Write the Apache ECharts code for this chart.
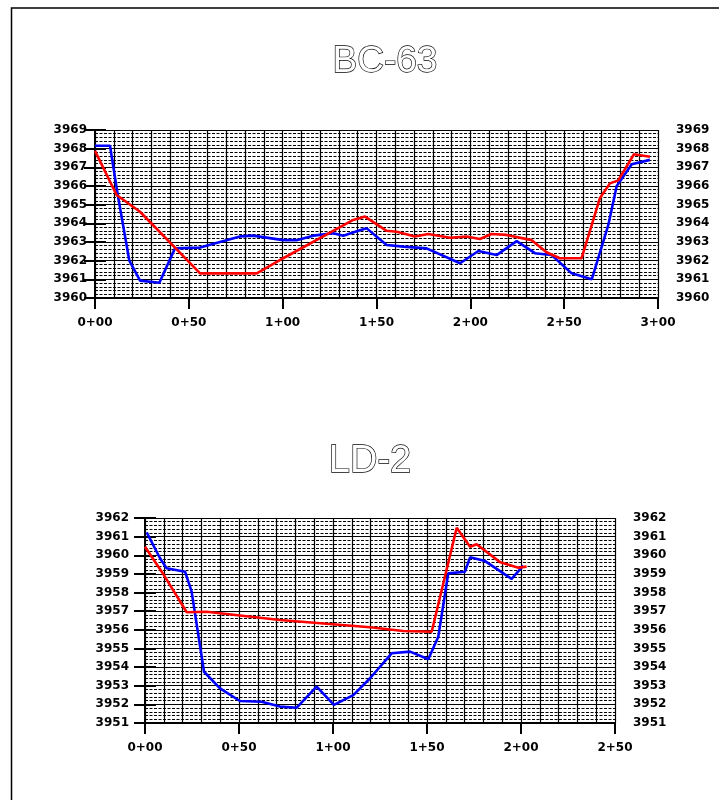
<!DOCTYPE html>
<html>
<head>
<meta charset="utf-8">
<script src="https://cdn.jsdelivr.net/npm/echarts@6/dist/echarts.min.js"></script>
<style>
html,body{margin:0;padding:0;background:#fff;}
#chart{width:719px;height:800px;}
</style>
</head>
<body>
<div id="chart"></div>
<script>
// ---- BC-63 ----
var bcTitle = 'BC-63';
var bcBlueX = [0, 8, 12, 18.3, 24, 34.3, 42.6, 56, 66.6, 77.3, 84.2, 100.3, 107.4, 116.3, 127, 132.3, 140.3, 144.8, 155.4, 164.3, 176.7, 194.5, 204.3, 214, 224.7, 234.4, 243.3, 254, 264.7, 273.5, 278, 286, 295.7];
var bcBlueY = [3968.16, 3968.16, 3965.6, 3962.0, 3960.93, 3960.82, 3962.66, 3962.7, 3963.0, 3963.3, 3963.34, 3963.1, 3963.1, 3963.34, 3963.47, 3963.34, 3963.6, 3963.73, 3962.84, 3962.75, 3962.66, 3961.86, 3962.52, 3962.3, 3963.05, 3962.4, 3962.3, 3961.32, 3961.0, 3963.9, 3966.0, 3967.16, 3967.4];
var bcRedX = [0, 11.5, 24, 56, 86.2, 100.3, 137.6, 143.9, 155.4, 160.8, 170.5, 177.6, 189.2, 198, 205.1, 211.3, 219.3, 232.7, 240.6, 247.7, 259.3, 269, 274.4, 278.8, 287.2, 295.7];
var bcRedY = [3967.88, 3965.52, 3964.62, 3961.32, 3961.32, 3962.13, 3964.18, 3964.36, 3963.6, 3963.55, 3963.29, 3963.43, 3963.23, 3963.29, 3963.16, 3963.43, 3963.38, 3963.1, 3962.45, 3962.13, 3962.13, 3965.34, 3966.14, 3966.3, 3967.7, 3967.57];
var bcXRange = [0, 300];
var bcYRange = [3960, 3969];

// ---- LD-2 ----
var ldTitle = 'LD-2';
var ldBlueX = [0.9, 8, 11.5, 21.3, 24.8, 31.4, 39.9, 50.5, 62, 71.8, 80.7, 91.3, 100.5, 110.8, 119.7, 131.2, 141, 150.7, 156, 161.3, 170.2, 172.9, 180.9, 195, 201.2];
var ldBlueY = [3961.23, 3959.84, 3959.3, 3959.12, 3958.05, 3953.75, 3952.86, 3952.18, 3952.14, 3951.88, 3951.82, 3952.95, 3951.97, 3952.5, 3953.4, 3954.74, 3954.83, 3954.42, 3955.63, 3959.03, 3959.12, 3959.89, 3959.69, 3958.73, 3959.44];
var ldRedX = [0, 8.9, 22.2, 32.8, 71.8, 119.7, 137.4, 152.5, 165.8, 172.9, 176.4, 189, 198.6, 203];
var ldRedY = [3960.46, 3959.12, 3956.94, 3956.97, 3956.53, 3956.14, 3955.94, 3955.9, 3961.48, 3960.46, 3960.59, 3959.62, 3959.33, 3959.39];
var ldXRange = [0, 250];
var ldYRange = [3951, 3962];

function zip(xs, ys) { return xs.map(function (x, i) { return [x, ys[i]]; }); }
function station(v) {
  var h = Math.floor(v / 100), r = Math.round(v - h * 100);
  return h + '+' + (r < 10 ? '0' : '') + r;
}
function plain(v) { return String(Math.round(v)); }

var labelFont = { fontFamily: 'DejaVu Sans', fontWeight: 'bold', fontSize: 12, color: '#000' };

function axesFor(g, xr, yr, leftMargin, rightMargin) {
  var xs = [
    { gridIndex: g, type: 'value', min: xr[0], max: xr[1], interval: 50, position: 'bottom',
      axisLine: { show: true, lineStyle: { color: '#000', width: 2 } },
      axisTick: { show: true, length: 11, lineStyle: { color: '#000', width: 2 } },
      axisLabel: Object.assign({ margin: 19, formatter: station }, labelFont),
      splitLine: { show: false } },
    { gridIndex: g, type: 'value', min: xr[0], max: xr[1], interval: 10, position: 'bottom',
      axisLine: { show: false }, axisTick: { show: false }, axisLabel: { show: false },
      splitLine: { show: true, lineStyle: { color: '#000', width: 1.2 } } }
  ];
  var ys = [
    { gridIndex: g, type: 'value', min: yr[0], max: yr[1], interval: 1, position: 'left',
      axisLine: { show: true, lineStyle: { color: '#000', width: 2 } },
      axisTick: { show: true, length: 11, lineStyle: { color: '#000', width: 2 } },
      axisLabel: Object.assign({ margin: leftMargin, formatter: plain }, labelFont),
      splitLine: { show: true, lineStyle: { color: '#000', width: 1.2 } },
      minorTick: { show: false, splitNumber: 5 },
      minorSplitLine: { show: true, lineStyle: { color: '#000', width: 1, type: [3, 1.5] } } },
    { gridIndex: g, type: 'value', min: yr[0], max: yr[1], interval: 1, position: 'right',
      axisLine: { show: true, lineStyle: { color: '#000', width: 2 } },
      axisTick: { show: true, length: 11, lineStyle: { color: '#000', width: 2 } },
      axisLabel: Object.assign({ margin: rightMargin, formatter: plain }, labelFont),
      splitLine: { show: false } }
  ];
  return { x: xs, y: ys };
}

var a0 = axesFor(0, bcXRange, bcYRange, 8, 18);
var a1 = axesFor(1, ldXRange, ldYRange, 16, 18);

function line(xi, yi, data, color) {
  return { type: 'line', xAxisIndex: xi, yAxisIndex: yi, data: data, showSymbol: false, symbol: 'none',
    lineStyle: { color: color, width: 2.6 }, animation: false, z: 5 };
}

var titleStyle = { fontFamily: 'Liberation Sans', fontWeight: 'normal', color: '#fff', textBorderColor: '#000', textBorderWidth: 1.3 };

var chart = echarts.init(document.getElementById('chart'), null, { renderer: 'canvas' });
chart.setOption({
  backgroundColor: '#fff',
  animation: false,
  title: [
    { text: bcTitle, left: 380, top: 38, textAlign: 'center', textStyle: Object.assign({ fontSize: 37 }, titleStyle) },
    { text: ldTitle, left: 365, top: 438, textAlign: 'center', textStyle: Object.assign({ fontSize: 38 }, titleStyle) }
  ],
  graphic: [
    { type: 'rect', shape: { x: 11.5, y: 8, width: 800, height: 900 }, style: { fill: 'none', stroke: '#000', lineWidth: 1.5 } }
  ],
  grid: [
    { left: 95, right: 61, top: 130, height: 168, show: false },
    { left: 145, right: 104, top: 518, height: 205, show: false }
  ],
  xAxis: a0.x.concat(a1.x),
  yAxis: a0.y.concat(a1.y),
  series: [
    line(0, 0, zip(bcBlueX, bcBlueY), '#0000ff'),
    line(0, 0, zip(bcRedX, bcRedY), '#ff0000'),
    line(2, 2, zip(ldBlueX, ldBlueY), '#0000ff'),
    line(2, 2, zip(ldRedX, ldRedY), '#ff0000')
  ]
});
</script>
</body>
</html>
